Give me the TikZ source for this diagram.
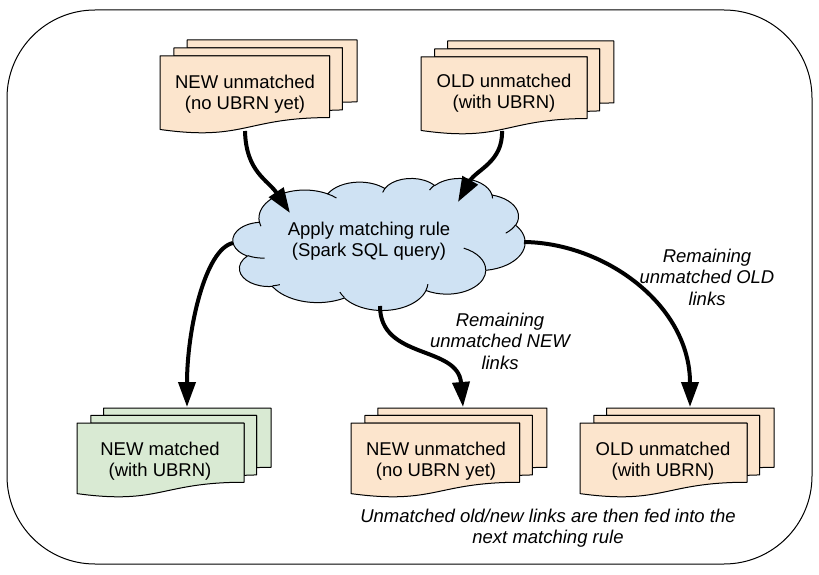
\documentclass[tikz,border=0pt]{standalone}
\usepackage{fontspec}
\setmainfont{Liberation Sans}
\usetikzlibrary{arrows.meta}
\definecolor{peach}{HTML}{FCE5CD}
\definecolor{mint}{HTML}{D9EAD3}
\definecolor{sky}{HTML}{CFE2F3}
\tikzset{
  thinline/.style={line width=1pt, draw=black, line join=round},
  flow/.style={line width=4pt, draw=black, -{Triangle[length=25pt,width=17pt]}},
  doctext/.style={inner sep=0pt, align=center, font=\fontsize{18.5}{21.5}\selectfont},
  note/.style={inner sep=0pt, align=center, font=\fontsize{18.5}{21.5}\selectfont\itshape},
}
\newcommand\cldcalc[5]{%
  \pgfmathsetmacro\cldtmpa{atan2((#2)*sin(#4),(#3)*cos(#4))}%
  \pgfmathsetmacro\cldtmpb{atan2((#2)*sin((#4)+(#5)),(#3)*cos((#4)+(#5)))}%
  \pgfmathsetmacro\cldtmpb{\cldtmpb<\cldtmpa ? \cldtmpb+360 : \cldtmpb}%
  \expandafter\xdef\csname clds#1\endcsname{\cldtmpa}%
  \expandafter\xdef\csname clde#1\endcsname{\cldtmpb}%
}
\newcommand\cldarc[3]{arc[start angle=\csname clds#1\endcsname, end angle=\csname clde#1\endcsname, x radius=#2, y radius=#3]}
\newcommand\mdoc[5]{%
  \pgfmathsetmacro\mdsx{#3/2160}%
  \pgfmathsetmacro\mdsy{-#4/2160}%
  \begin{scope}[shift={(#1pt,-#2pt)}, x=\mdsx pt, y=\mdsy pt]
    \filldraw[thinline, fill=#5] (297.2,181.5) -- (297.2,0) -- (2160,0) -- (2160,1439.2)
      .. controls (2080,1439.2) and (2000,1446.7) .. (2000,1446.7) -- (2000,181.5) -- cycle;
    \filldraw[thinline, fill=#5] (153.2,367.5) -- (153.2,181.5) -- (2000,181.5) -- (2000,1625.2)
      .. controls (1929.8,1625.2) and (1859.5,1635.2) .. (1859.5,1635.2) -- (1859.5,367.5) -- cycle;
    \filldraw[thinline, fill=#5] (0,2078.2) .. controls (929.8,2354.2) and (929.8,1802.2) .. (1859.5,1802.2)
      -- (1859.5,367.5) -- (0,367.5) -- cycle;
  \end{scope}}
\begin{document}
\begin{tikzpicture}[x=1pt,y=-1pt]
\useasboundingbox (0,0) rectangle (819,575);
\fill[white] (0,0) rectangle (819,575);
% outer frame
\draw[thinline, rounded corners=88pt] (7,10) rectangle (812,564);

% documents
\mdoc{160}{40}{197}{93}{peach}
\mdoc{421}{41}{193}{93}{peach}
\mdoc{77}{408}{194}{89}{mint}
\mdoc{351}{408}{196}{89}{peach}
\mdoc{580}{408}{194}{89}{peach}

\node[doctext] (newin) at (245,94) {NEW unmatched\\(no UBRN yet)};
\node[doctext] (oldin) at (504,93) {OLD unmatched\\(with UBRN)};
\node[doctext] (newmatched) at (160,461) {NEW matched\\(with UBRN)};
\node[doctext] (newout) at (436,461) {NEW unmatched\\(no UBRN yet)};
\node[doctext] (oldout) at (663,461) {OLD unmatched\\(with UBRN)};

% cloud
\cldcalc{A}{675.3}{919.0}{-190.48749}{123.78053}
\cldcalc{B}{533.3}{726.7}{-144.10238}{89.94523}
\cldcalc{C}{436.5}{594.5}{-145.80792}{99.72302}
\cldcalc{D}{485.7}{659.5}{-130.98607}{117.24173}
\cldcalc{E}{533.3}{727.3}{-78.70888}{109.02692}
\cldcalc{F}{677.5}{922.0}{-46.26725}{130.269}
\cldcalc{G}{578.5}{786.7}{0.62502}{114.03333}
\cldcalc{H}{675.2}{921.5}{22.4516}{115.17255}
\cldcalc{I}{772.0}{1054.3}{66.24263}{75.71102}
\cldcalc{J}{436.0}{591.8}{-274.94208}{146.73557}
\cldcalc{K}{434.5}{594.5}{-246.8285}{152.51885}
\cldcalc{a}{434.5}{594.5}{86.742}{26.4295}
\cldcalc{b}{436.0}{591.8}{73.61047}{11.44747}
\cldcalc{c}{675.2}{921.5}{137.62415}{14.0811}
\cldcalc{d}{675.2}{921.5}{6.45327}{15.99835}
\cldcalc{e}{578.5}{786.7}{-70.29235}{70.91737}
\cldcalc{f}{533.3}{727.3}{30.31803}{27.7515}
\cldcalc{g}{485.7}{659.5}{-13.74433}{14.8589}
\cldcalc{h}{485.7}{659.5}{-149.18145}{18.19537}
\cldcalc{i}{436.5}{594.5}{-163.49427}{17.68635}
\cldcalc{j}{675.3}{919.0}{-66.70695}{12.31935}
\cldcalc{k}{675.3}{919.0}{157.65435}{11.85817}
\begin{scope}[shift={(233pt,-178pt)}, x=0.067593pt, y=-0.030556pt]
  \filldraw[thinline, fill=sky] (390,1437)
    \cldarc{A}{675.3}{919.0}
    \cldarc{B}{533.3}{726.7}
    \cldarc{C}{436.5}{594.5}
    \cldarc{D}{485.7}{659.5}
    \cldarc{E}{533.3}{727.3}
    \cldarc{F}{677.5}{922.0}
    \cldarc{G}{578.5}{786.7}
    \cldarc{H}{675.2}{921.5}
    \cldarc{I}{772.0}{1054.3}
    \cldarc{J}{436.0}{591.8}
    \cldarc{K}{434.5}{594.5}
    -- cycle;
  \draw[thinline]
    (469.3,2617.7) \cldarc{a}{434.5}{594.5}
    (692.8,3489.9) \cldarc{b}{436.0}{591.8}
    (1647.8,3909.0) \cldarc{c}{675.2}{921.5}
    (2882.7,3475.1) \cldarc{d}{675.2}{921.5}
    (3412.9,2295.4) \cldarc{e}{578.5}{786.7}
    (4179.8,1535.4) \cldarc{f}{533.3}{727.3}
    (3832.4,542.6) \cldarc{g}{485.7}{659.5}
    (2907.8,395.2) \cldarc{h}{485.7}{659.5}
    (2214.1,472.0) \cldarc{i}{436.5}{594.5}
    (1400.0,519.2) \cldarc{j}{675.3}{919.0}
    (412.7,1578.9) \cldarc{k}{675.3}{919.0};
\end{scope}
\node[doctext] (rule) at (369,241) {Apply matching rule\\(Spark SQL query)};

% connection points
\coordinate (newinb) at (245,131);
\coordinate (oldinb) at (502,131);
\coordinate (rulein1) at (290,213);
\coordinate (rulein2) at (458,202);
\coordinate (rulel) at (233,243);
\coordinate (ruleb) at (380,306);
\coordinate (ruler) at (524,242);
\coordinate (newmatchedt) at (187,407);
\coordinate (newoutt) at (463,407);
\coordinate (oldoutt) at (690,407);

\draw[flow] (newinb) .. controls (246,172) and (268,180) .. (rulein1);
\draw[flow] (oldinb) .. controls (503,162) and (476,170) .. (rulein2);
\draw[flow] (rulel) .. controls (205,249) and (187,330) .. (newmatchedt);
\draw[flow] (ruleb) .. controls (380,360) and (458,345) .. (newoutt);
\draw[flow] (ruler) .. controls (605,243) and (690,305) .. (oldoutt);

% labels
\node[note] (lblold) at (707,277) {Remaining\\unmatched OLD\\links};
\node[note] (lblnew) at (500,341) {Remaining\\unmatched NEW\\links};
\node[note] (lblfoot) at (548,528) {Unmatched old/new links are then fed into the\\next matching rule};
\end{tikzpicture}
\end{document}
